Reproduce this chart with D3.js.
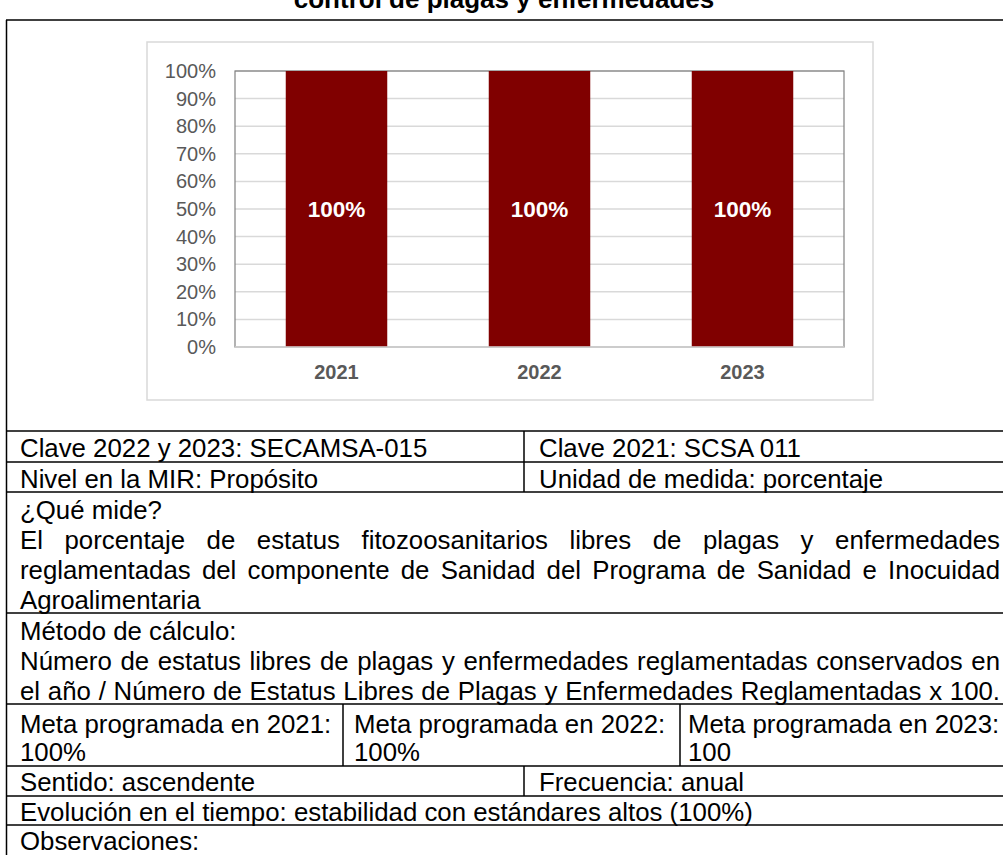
<!doctype html>
<html>
<head>
<meta charset="UTF-8" />
<script src="https://d3js.org/d3.v7.min.js"></script>
<style>
  body { margin: 0; background: #fff; }
  svg text { font-family: "Liberation Sans", Arial, sans-serif; }
</style>
</head>
<body>
<svg id="page" width="1003" height="855"></svg>
<script>
(function(){
  "use strict";

  // chart data
  const years = ["2021", "2022", "2023"];
  const values = [100, 100, 100];
  const yTicks = [0, 10, 20, 30, 40, 50, 60, 70, 80, 90, 100];

  // table text
  const title = "control de plagas y enfermedades";
  const claveRow = ["Clave 2022 y 2023: SECAMSA-015", "Clave 2021: SCSA 011"];
  const nivelRow = ["Nivel en la MIR: Propósito", "Unidad de medida: porcentaje"];
  const queMide = ["¿Qué mide?",
    "El porcentaje de estatus fitozoosanitarios libres de plagas y enfermedades",
    "reglamentadas del componente de Sanidad del Programa de Sanidad e Inocuidad",
    "Agroalimentaria"];
  const metodo = ["Método de cálculo:",
    "Número de estatus libres de plagas y enfermedades reglamentadas conservados en",
    "el año / Número de Estatus Libres de Plagas y Enfermedades Reglamentadas x 100."];
  const metaRow = [["Meta programada en 2021:", "100%"],
                   ["Meta programada en 2022:", "100%"],
                   ["Meta programada en 2023:", "100"]];
  const sentidoRow = ["Sentido: ascendente", "Frecuencia: anual"];
  const evolucion = "Evolución en el tiempo: estabilidad con estándares altos (100%)";
  const observaciones = "Observaciones:";

  const svg = d3.select("#page");
  const lineH = 30, base = 25.5, textX = 20, rightEdge = 1000;
  const fontSize = "25.8px";

  // title, cut at the top of the page as in the source
  svg.append("text")
     .attr("x", 504).attr("y", 8)
     .attr("text-anchor", "middle")
     .style("font-size", "26px").style("font-weight", "bold")
     .text(title);

  // ---- chart ----
  const frame = {x: 147, y: 42, w: 726, h: 358};
  const plot = {left: 235, right: 844, top: 71, bottom: 347};

  svg.append("rect")
     .attr("x", frame.x).attr("y", frame.y)
     .attr("width", frame.w).attr("height", frame.h)
     .attr("fill", "#fff").attr("stroke", "#d9d9d9").attr("stroke-width", 1.5);

  const x = d3.scaleBand().domain(years)
              .range([plot.left, plot.right])
              .paddingInner(0.5).paddingOuter(0.25);
  const y = d3.scaleLinear().domain([0, 100]).range([plot.bottom, plot.top]);

  const g = svg.append("g");

  g.selectAll("line.grid").data(yTicks).enter().append("line")
   .attr("class", "grid")
   .attr("x1", plot.left).attr("x2", plot.right)
   .attr("y1", d => y(d)).attr("y2", d => y(d))
   .attr("stroke", "#d9d9d9").attr("stroke-width", 1.5);

  g.append("rect")
   .attr("x", plot.left).attr("y", plot.top)
   .attr("width", plot.right - plot.left).attr("height", plot.bottom - plot.top)
   .attr("fill", "none").attr("stroke", "#808080").attr("stroke-width", 1.2);

  g.selectAll("rect.bar").data(values).enter().append("rect")
   .attr("class", "bar")
   .attr("x", (d, i) => x(years[i]))
   .attr("width", x.bandwidth())
   .attr("y", d => y(d))
   .attr("height", d => y(0) - y(d))
   .attr("fill", "#800000");

  g.append("line")
   .attr("x1", plot.left).attr("x2", plot.right)
   .attr("y1", y(0)).attr("y2", y(0))
   .attr("stroke", "#d9d9d9").attr("stroke-width", 1.5);

  const yAxis = d3.axisLeft(y).tickValues(yTicks).tickSize(0).tickPadding(19)
                  .tickFormat(d => d + "%");
  const ya = g.append("g").attr("transform", `translate(${plot.left},0)`).call(yAxis);
  ya.select(".domain").remove();
  ya.selectAll("text").attr("fill", "#595959")
    .style("font-family", "'Liberation Sans', Arial, sans-serif")
    .style("font-size", "20px");

  const xAxis = d3.axisBottom(x).tickSize(0).tickPadding(18);
  const xa = g.append("g").attr("transform", `translate(0,${plot.bottom})`).call(xAxis);
  xa.select(".domain").remove();
  xa.selectAll("text").attr("fill", "#595959")
    .style("font-family", "'Liberation Sans', Arial, sans-serif")
    .style("font-size", "20px").style("font-weight", "bold");

  g.selectAll("text.lbl").data(values).enter().append("text")
   .attr("class", "lbl")
   .attr("x", (d, i) => x(years[i]) + x.bandwidth() / 2)
   .attr("y", y(50))
   .attr("dy", "0.35em")
   .attr("text-anchor", "middle")
   .attr("fill", "#fff")
   .style("font-size", "22.5px").style("font-weight", "bold")
   .text(d => d + "%");

  // ---- table ----
  const rowTops = [431, 462, 492, 613, 704, 766, 796, 825];
  const borderColor = "#000";

  function hline(yy) {
    svg.append("line").attr("x1", 6).attr("x2", 1003)
       .attr("y1", yy).attr("y2", yy)
       .attr("stroke", borderColor).attr("stroke-width", 1.5);
  }
  function vline(xx, y1, y2) {
    svg.append("line").attr("x1", xx).attr("x2", xx)
       .attr("y1", y1).attr("y2", y2)
       .attr("stroke", borderColor).attr("stroke-width", 1.5);
  }
  function put(str, xx, yy, justify) {
    const t = svg.append("text").attr("x", xx).attr("y", yy)
       .style("font-size", fontSize).attr("fill", "#000").text(str);
    if (justify) {
      const w = t.node().getComputedTextLength();
      const gaps = str.split(" ").length - 1;
      if (gaps > 0) t.attr("word-spacing", (justify - xx - w) / gaps);
    }
    return t;
  }

  // outer box
  hline(20);
  vline(6.5, 20, 855);
  rowTops.forEach(hline);

  // clave / nivel
  vline(524, rowTops[0], rowTops[2]);
  put(claveRow[0], textX, rowTops[0] + base);
  put(claveRow[1], 539, rowTops[0] + base);
  put(nivelRow[0], textX, rowTops[1] + base);
  put(nivelRow[1], 539, rowTops[1] + base);

  // que mide
  queMide.forEach((s, i) => put(s, textX, rowTops[2] + base + 1 + i * lineH,
    (i === 1 || i === 2) ? rightEdge : null));

  // metodo
  metodo.forEach((s, i) => put(s, textX, rowTops[3] + base + 1 + i * lineH,
    i > 0 ? rightEdge : null));

  // metas
  const metaX = [6.5, 343, 680];
  const metaPad = [13.5, 11, 8];
  vline(metaX[1], rowTops[4], rowTops[5]);
  vline(metaX[2], rowTops[4], rowTops[5]);
  metaRow.forEach((cell, i) => {
    const tx = metaX[i] + metaPad[i];
    put(cell[0], tx, rowTops[4] + 28.5);
    put(cell[1], tx, rowTops[4] + 28.5 + 28);
  });

  // sentido
  vline(524, rowTops[5], rowTops[6]);
  put(sentidoRow[0], textX, rowTops[5] + 24.5);
  put(sentidoRow[1], 539, rowTops[5] + 24.5);

  put(evolucion, textX, rowTops[6] + 24.5);
  put(observaciones, textX, rowTops[7] + 25);
})();
</script>
</body>
</html>
